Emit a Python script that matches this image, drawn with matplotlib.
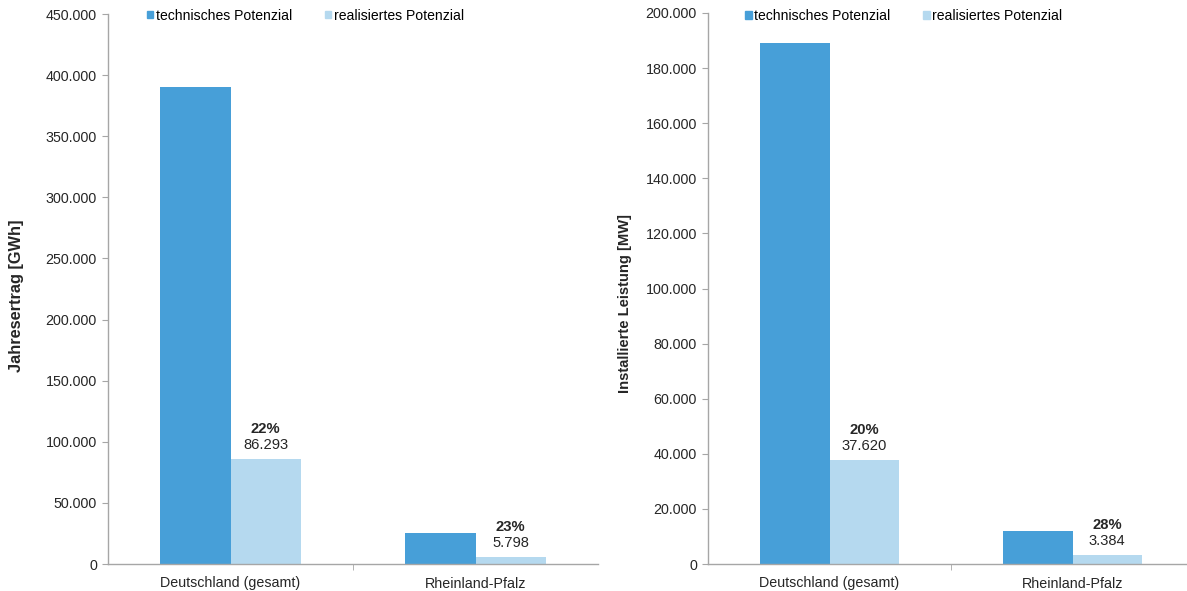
import matplotlib
matplotlib.use("Agg")
import matplotlib.pyplot as plt
from matplotlib.patches import Patch
from matplotlib.ticker import FuncFormatter, MultipleLocator, FixedLocator
import numpy as np

plt.rcParams['font.family'] = ['Liberation Sans', 'DejaVu Sans']

categories = ["Deutschland (gesamt)", "Rheinland-Pfalz"]
series_names = ["technisches Potenzial", "realisiertes Potenzial"]

ertrag_tech = [390000, 25000]
ertrag_real = [86293, 5798]
ertrag_pct = ["22%", "23%"]

leistung_tech = [189000, 12000]
leistung_real = [37620, 3384]
leistung_pct = ["20%", "28%"]

c_dark = "#479fd8"
c_light = "#b5d9ef"
axis_col = "#a6a6a6"
txt_col = "#262626"

W, H = 1187, 591
fig = plt.figure(figsize=(W / 100, H / 100), dpi=100)

def fmt(v, pos=None):
    return f"{v:,.0f}".replace(",", ".")

def make_panel(rect, tech, real, pct, ymax, ystep, ylabel, ylabel_size, leg_anchor, label_xy):
    ax = fig.add_axes(rect)
    x = np.arange(len(categories))
    bw = 0.286
    ax.bar(x - bw / 2, tech, width=bw, color=c_dark, label=series_names[0], zorder=2)
    ax.bar(x + bw / 2, real, width=bw, color=c_light, label=series_names[1], zorder=2)
    for xi, v, p in zip(x, real, pct):
        ax.annotate(fmt(v), (xi + bw / 2, v), xytext=(0, 14), textcoords='offset pixels',
                    ha='center', va='center', fontsize=10.6, color=txt_col)
        ax.annotate(p, (xi + bw / 2, v), xytext=(0, 30), textcoords='offset pixels',
                    ha='center', va='center', fontsize=10.6, fontweight='bold', color=txt_col)
    ax.set_xlim(-0.5, len(categories) - 0.5)
    ax.set_ylim(0, ymax)
    ax.yaxis.set_major_locator(MultipleLocator(ystep))
    ax.yaxis.set_major_formatter(FuncFormatter(fmt))
    ax.set_xticks(x)
    ax.set_xticklabels(categories)
    ax.xaxis.set_minor_locator(FixedLocator([0.5]))
    ax.tick_params(axis='x', which='major', length=0, pad=9, labelsize=10.3, labelcolor=txt_col)
    ax.tick_params(axis='x', which='minor', length=4, color=axis_col, direction='out')
    ax.tick_params(axis='y', length=4, color=axis_col, pad=4, labelsize=10.3, labelcolor=txt_col)
    for s in ['top', 'right']:
        ax.spines[s].set_visible(False)
    for s in ['left', 'bottom']:
        ax.spines[s].set_color(axis_col)
        ax.spines[s].set_linewidth(1.0)
    ax.set_ylabel(ylabel, fontsize=ylabel_size, fontweight='bold', color=txt_col)
    ax.yaxis.set_label_coords(*label_xy)
    handles = [Patch(color=c_dark), Patch(color=c_light)]
    ax.legend(handles, series_names, loc='upper left', bbox_to_anchor=leg_anchor,
              ncol=2, frameon=False, handlelength=0.48, handleheight=0.48,
              handletextpad=0.15, columnspacing=2.35, fontsize=10.1,
              borderaxespad=0, borderpad=0)
    return ax

# left panel: x 108..598, y 14..564
make_panel([108 / W, (H - 564) / H, 490 / W, 550 / H], ertrag_tech, ertrag_real, ertrag_pct,
           450000, 50000, "Jahresertrag [GWh]", 11.8, (0.079, 1.01), (-0.172, 0.487))
# right panel: x 708..1194, y 13..564
make_panel([708 / W, (H - 564) / H, 486 / W, 551 / H], leistung_tech, leistung_real, leistung_pct,
           200000, 20000, "Installierte Leistung [MW]", 10.6, (0.076, 1.007), (-0.157, 0.472))

fig.savefig("out.png", dpi=100)
